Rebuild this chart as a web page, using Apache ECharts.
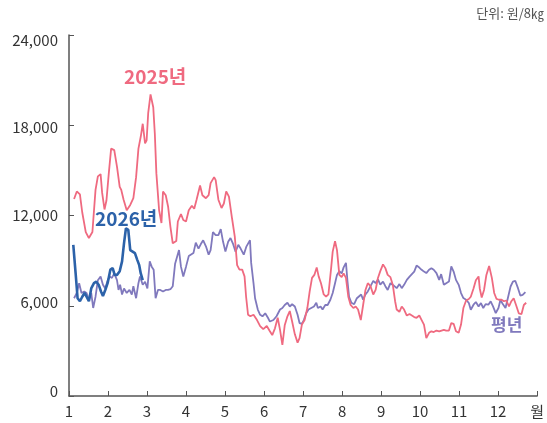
<!DOCTYPE html>
<html>
<head>
<meta charset="utf-8">
<script src="https://cdn.jsdelivr.net/npm/echarts@6/dist/echarts.min.js"></script>
<style>
html,body{margin:0;padding:0;background:#fff;}
#c{width:547px;height:423px;}
</style>
</head>
<body>
<div id="c"></div>
<script>
// x positions are month positions (1 = start of January, 13 = end of December)
const monthTicks = ['1','2','3','4','5','6','7','8','9','10','11','12','월'];
const yTicks = [0, 6000, 12000, 18000, 24000];

const x2025 = [1.13,1.20,1.28,1.34,1.43,1.51,1.60,1.68,1.74,1.81,1.85,1.91,1.96,2.02,2.08,2.16,2.23,2.30,2.34,2.40,2.48,2.57,2.65,2.72,2.78,2.84,2.89,2.95,2.99,3.03,3.09,3.16,3.20,3.24,3.31,3.37,3.41,3.48,3.54,3.60,3.66,3.75,3.79,3.87,3.93,4.00,4.07,4.15,4.21,4.27,4.36,4.42,4.51,4.58,4.63,4.72,4.76,4.83,4.91,4.97,5.03,5.10,5.18,5.25,5.31,5.37,5.44,5.50,5.54,5.59,5.65,5.73,5.82,5.90,5.98,6.07,6.15,6.21,6.28,6.35,6.41,6.47,6.53,6.60,6.66,6.72,6.79,6.86,6.91,6.97,7.04,7.11,7.17,7.23,7.29,7.35,7.40,7.46,7.53,7.59,7.65,7.72,7.76,7.82,7.87,7.93,7.99,8.04,8.10,8.16,8.22,8.29,8.35,8.41,8.48,8.54,8.60,8.66,8.73,8.80,8.86,8.92,8.98,9.05,9.11,9.17,9.24,9.30,9.36,9.40,9.47,9.53,9.59,9.66,9.73,9.78,9.85,9.91,9.98,10.04,10.10,10.16,10.23,10.29,10.35,10.42,10.49,10.54,10.61,10.67,10.74,10.80,10.86,10.92,10.99,11.05,11.11,11.18,11.25,11.30,11.37,11.43,11.50,11.53,11.58,11.64,11.70,11.77,11.84,11.90,11.96,12.02,12.09,12.15,12.21,12.28,12.34,12.40,12.46,12.53,12.60,12.66,12.72];
const v2025 = [13100,13600,13400,12200,10900,10500,10900,13700,14600,14750,13500,12400,13000,14800,16450,16350,15250,13900,13700,13050,12350,12700,13150,14550,16450,17250,18100,16800,17000,18800,20050,19200,17450,14800,12350,11500,13600,13350,12600,11250,10150,10300,11600,12100,11700,11600,12350,12650,12450,13050,14000,13350,13150,13350,14150,14550,14350,13050,12500,12800,13600,13250,11800,10600,8700,8400,8400,7950,6600,5400,5300,5400,5050,4650,4450,4650,4300,4050,4500,5200,4400,3400,4700,5300,5650,4950,4100,3550,3850,4750,5050,5850,6950,7850,8050,8550,7950,7500,6750,6600,6750,8500,9600,10300,9700,8050,7900,8150,7850,6600,6050,5850,5950,5750,5050,6050,7050,7500,7300,6750,7050,7850,8300,8750,8500,8050,7900,7400,6300,5750,5600,5950,5750,5350,5450,5400,5250,5200,5350,5050,4750,3850,4200,4300,4250,4350,4300,4350,4400,4350,4350,4850,4800,4300,4200,4750,5850,6350,6450,6600,7150,7700,7950,7150,6550,7050,8050,8650,7850,6850,6450,6400,6400,6300,6350,5950,6300,6500,6050,5500,5450,6050,6200];

const xAvg = [1.13,1.20,1.26,1.32,1.39,1.45,1.51,1.57,1.62,1.68,1.74,1.81,1.87,1.93,1.98,2.04,2.10,2.16,2.23,2.27,2.31,2.36,2.41,2.48,2.55,2.61,2.65,2.72,2.78,2.82,2.89,2.95,3.01,3.07,3.12,3.17,3.22,3.28,3.34,3.41,3.48,3.54,3.60,3.66,3.72,3.82,3.87,3.93,4.00,4.07,4.13,4.19,4.25,4.32,4.38,4.44,4.51,4.58,4.63,4.69,4.76,4.83,4.89,4.95,5.01,5.08,5.14,5.20,5.27,5.34,5.40,5.48,5.55,5.64,5.67,5.73,5.77,5.84,5.90,5.96,6.03,6.10,6.15,6.24,6.32,6.41,6.47,6.53,6.60,6.66,6.72,6.79,6.86,6.91,6.97,7.02,7.08,7.14,7.21,7.28,7.34,7.38,7.45,7.50,7.57,7.63,7.70,7.76,7.82,7.87,7.93,7.99,8.04,8.10,8.14,8.18,8.24,8.31,8.38,8.43,8.49,8.54,8.60,8.66,8.73,8.80,8.86,8.92,8.98,9.05,9.11,9.17,9.24,9.32,9.40,9.47,9.53,9.59,9.66,9.73,9.78,9.85,9.91,9.98,10.04,10.10,10.16,10.23,10.29,10.35,10.42,10.49,10.54,10.61,10.67,10.74,10.80,10.86,10.92,10.99,11.05,11.11,11.18,11.25,11.30,11.37,11.43,11.50,11.56,11.62,11.68,11.75,11.81,11.87,11.94,12.01,12.06,12.12,12.19,12.26,12.32,12.38,12.44,12.51,12.57,12.63,12.70];
const vAvg = [6500,6850,7500,6850,6950,6850,6400,6850,5850,6600,7700,7950,7400,7150,7600,7950,7850,8150,7700,7050,7400,6750,7150,6850,7050,6750,7300,6500,7500,7950,7400,7600,7150,8950,8600,8400,6500,7050,7050,6950,7050,7050,7100,7300,8800,9700,8600,7950,8600,9300,9400,9500,10200,9800,10100,10350,9950,9400,9700,10900,10700,10700,11100,10250,9600,10250,10500,10150,9600,10050,9800,9400,9950,10350,8850,7500,6500,5750,5400,5300,5500,5200,4950,5050,5300,5750,5850,6050,6200,5950,6100,5950,5400,4850,4800,5050,5500,5750,5850,5950,6200,5850,5950,5750,6050,6050,6400,6850,7500,8050,8300,8150,8550,8850,7600,6600,6200,6100,6500,6600,6750,6400,6750,6950,7300,7650,7500,7750,7400,7600,7300,7050,7500,7350,7170,7440,7170,7390,7720,7940,7840,8270,8670,8540,8390,8270,8170,8390,8500,8390,8170,7720,8100,7390,7500,7610,8610,8270,7720,7390,6840,6510,6400,6180,5735,6070,6250,5955,6180,5850,6110,6070,6290,5955,5515,5850,6400,6110,5850,6620,7280,7610,7660,7170,6680,6730,6910];

const x2026 = [1.11,1.17,1.22,1.28,1.34,1.40,1.45,1.51,1.57,1.64,1.70,1.76,1.82,1.87,1.93,1.99,2.06,2.12,2.17,2.23,2.30,2.36,2.41,2.46,2.52,2.57,2.63,2.69,2.75,2.80,2.84,2.89];
const v2026 = [10050,8150,6500,6300,6600,6850,6600,6300,7150,7500,7600,7400,6950,6650,7050,7500,8400,8500,8050,8050,8300,8950,10150,11150,11050,9700,9600,9500,9050,8700,8150,7700];

const COL_2025 = '#ef6a80';
const COL_AVG = '#8079bd';
const COL_2026 = '#2c62a9';
const FONT = '"Noto Sans CJK KR", "Noto Sans", sans-serif';

function zip(xs, vs){ return xs.map((x,i)=>[x, vs[i]]); }

// per-label vertical nudges, matching the reference's label placement
const yLabelRich = {
  p0: {padding: [0,0,10,0]},
  p1: {padding: [0,0,7,0]},
  p2: {padding: [0,0,0,0]},
  p3: {padding: [5,0,0,0]},
  p4: {padding: [11,0,0,0]}
};

const chart = echarts.init(document.getElementById('c'), null, {renderer:'canvas'});
chart.setOption({
  animation: false,
  backgroundColor: '#fff',
  grid: {left: 69, right: 4, top: 35, bottom: 27, containLabel: false},
  xAxis: {
    type: 'value', min: 1, max: 13, interval: 1,
    axisLine: {show: true, lineStyle: {color: '#555', width: 1.5}},
    axisTick: {show: true, inside: true, length: 5, lineStyle: {color: '#555', width: 1}},
    splitLine: {show: false},
    axisLabel: {
      showMinLabel: true, showMaxLabel: true, margin: 8,
      color: '#333', fontSize: 15, fontFamily: FONT,
      formatter: v => monthTicks[Math.round(v) - 1]
    }
  },
  yAxis: {
    type: 'value', min: yTicks[0], max: yTicks[yTicks.length-1], interval: 6000,
    axisLine: {show: true, lineStyle: {color: '#555', width: 1.5}},
    axisTick: {show: true, inside: true, length: 5, lineStyle: {color: '#555', width: 1}},
    splitLine: {show: false},
    axisLabel: {
      margin: 11, color: '#333', fontSize: 15, fontFamily: FONT,
      formatter: v => '{p' + yTicks.indexOf(v) + '|' + v.toLocaleString('en-US') + '}',
      rich: yLabelRich
    }
  },
  series: [
    {name: '평년', type: 'line', data: zip(xAvg, vAvg), showSymbol: false, smooth: false,
     lineStyle: {color: COL_AVG, width: 1.8}, itemStyle: {color: COL_AVG}, z: 2},
    {name: '2025년', type: 'line', data: zip(x2025, v2025), showSymbol: false, smooth: false,
     lineStyle: {color: COL_2025, width: 1.8}, itemStyle: {color: COL_2025}, z: 3},
    {name: '2026년', type: 'line', data: zip(x2026, v2026), showSymbol: false, smooth: false,
     lineStyle: {color: COL_2026, width: 2.6}, itemStyle: {color: COL_2026}, z: 4}
  ],
  graphic: [
    {type: 'text', left: 124, top: 67, style: {text: '2025년', fill: COL_2025, font: 'bold 19px ' + FONT}},
    {type: 'text', left: 95, top: 209, style: {text: '2026년', fill: COL_2026, font: 'bold 19px ' + FONT}},
    {type: 'text', left: 491, top: 316, style: {text: '평년', fill: COL_AVG, font: 'bold 17px ' + FONT}},
    {type: 'text', right: 3, top: 7, style: {text: '단위: 원/8㎏', fill: '#555', font: '13px ' + FONT}}
  ]
});
</script>
</body>
</html>
